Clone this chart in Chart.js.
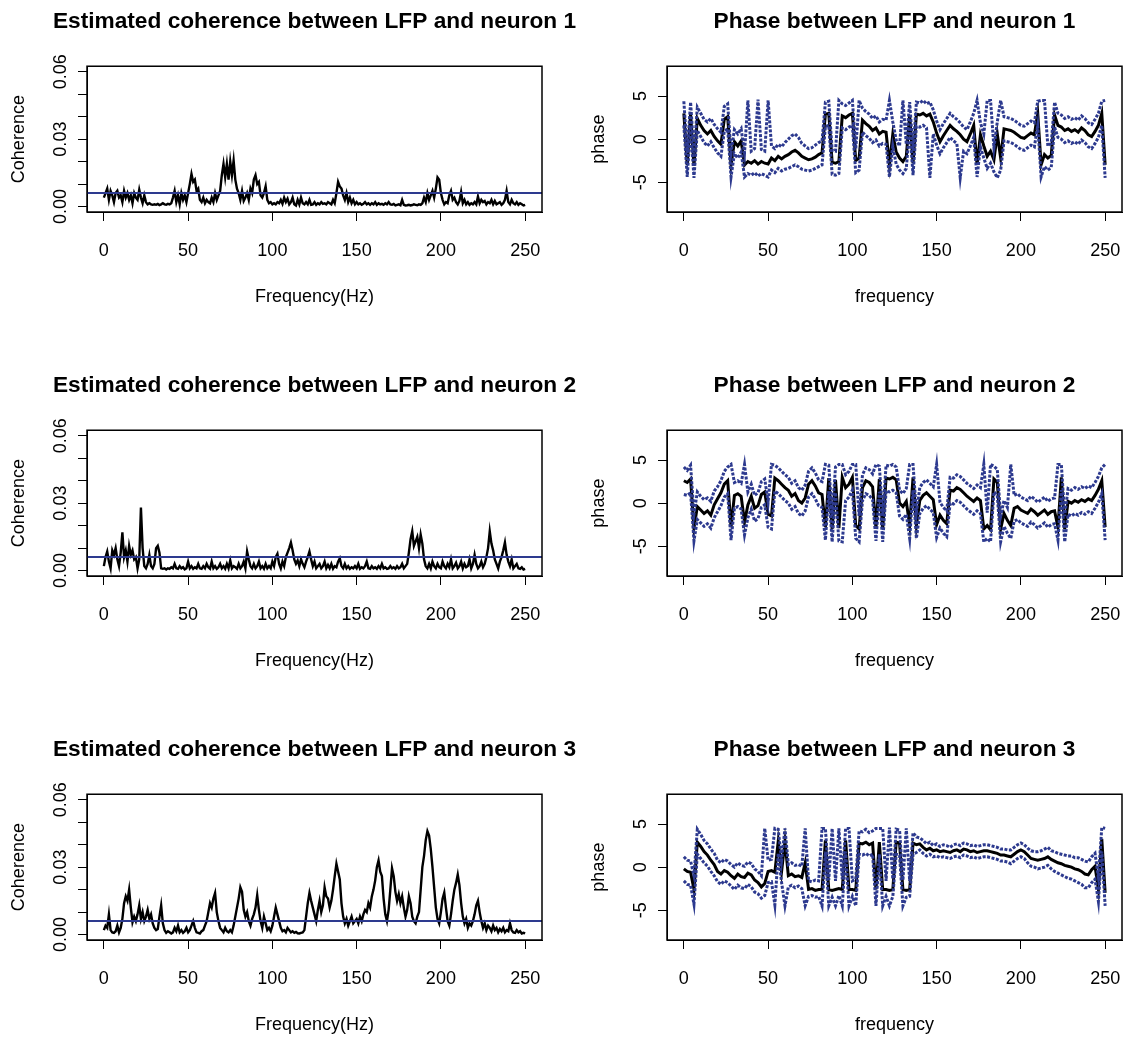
<!DOCTYPE html>
<html>
<head>
<meta charset="utf-8">
<script src="https://cdn.jsdelivr.net/npm/chart.js@4.4.1/dist/chart.umd.min.js"></script>
<style>
  html, body { margin: 0; padding: 0; background: #fff; }
  #page { position: relative; width: 1124px; height: 1038px; overflow: hidden; background: #fff; }
  #page canvas { position: absolute; }
</style>
</head>
<body>
<div id="page"></div>
<script>
/* Coherence LFP/neuron (left column) + phase with confidence bands (right column).
 * Coherence values are in units of 1e-3, one sample per Hz (0..250).
 * Phase values in radians, one sample every 2 Hz (0..250). */

const COH_STEP = 1;
const PHASE_STEP = 2;

const cohNeuron1 = [
  4, 6, 8, 3, 7, 5, 2, 6, 7, 4,
  5, 2, 7, 4, 6, 3, 5, 1.5, 6, 4,
  3, 7.5, 4, 1.5, 5, 2, 1, 1.5, 1, 0.8,
  1, 0.8, 1.2, 0.7, 1, 1.5, 1, 0.8, 1.2, 1,
  1.5, 4, 7, 2, 5, 1, 6, 3, 5, 2,
  6, 10, 14.5, 11, 12, 7, 8, 3, 2, 4,
  1.5, 3, 2, 1.5, 4, 2, 6, 3, 5, 7,
  14, 19, 13, 19, 12, 20, 14, 20.5, 12, 8,
  6, 3, 7, 2.5, 4, 6, 3, 8, 6, 12,
  14, 10, 11, 5, 4, 6, 9, 3, 1.5, 2,
  1, 1.5, 1, 2, 1.5, 3, 1.2, 4, 2, 3.5,
  1, 2, 4, 1, 0.5, 3, 1, 4, 1.5, 1,
  2, 1, 3, 0.8, 1, 2, 0.8, 1.5, 1, 2,
  1.2, 1.5, 1, 2, 1.5, 1, 3, 1.5, 6, 11,
  9, 8, 5, 3, 6, 2, 4, 1.5, 3, 1,
  2, 1, 1.5, 0.8, 1.2, 2, 1, 1.5, 0.8, 1.5,
  1, 2, 0.8, 1.5, 1, 1.2, 0.8, 1.5, 1, 2,
  1, 0.8, 1.2, 0.5, 0.8, 1, 0.6, 3, 0.8, 0.5,
  0.6, 0.8, 0.5, 0.7, 1, 0.8, 0.6, 1, 0.8, 1.5,
  4, 2, 6, 3, 5, 7, 4, 8, 13, 12,
  6, 3, 1, 2, 1.5, 5, 7, 3, 4, 2,
  1, 2.5, 6.5, 1.5, 3, 1, 2, 0.8, 1.5, 1,
  2, 1, 4.5, 1.5, 3, 2, 2.5, 1, 2, 1.5,
  3, 1, 2.5, 1, 1.5, 2, 0.8, 1.5, 3, 7,
  2, 1, 3, 1.5, 1, 2, 0.8, 1.5, 1, 0.5,
  0.8
];

const cohNeuron2 = [
  2, 6, 8.5, 4, 1, 9, 7, 10, 5, 2,
  8, 17, 6, 9, 4, 11, 7, 9, 5, 6,
  1, 5, 28, 10, 2, 1, 3, 7, 2, 1,
  3, 10, 11, 8, 1, 0.8, 1, 0.5, 1, 0.8,
  1.5, 1, 3, 1, 0.8, 2, 1, 1.5, 0.5, 1,
  4, 1, 2, 0.8, 1.5, 1, 3, 1, 0.8, 2,
  1, 3, 1.5, 0.8, 4, 1, 2, 0.8, 1.5, 3,
  1, 2, 0.8, 3, 1, 4.5, 1, 2, 1.5, 0.8,
  3, 1, 2, 4, 1, 8.5, 5, 2, 1, 3,
  1, 2, 4, 1, 2, 0.8, 3, 1, 2, 1,
  4, 2, 6, 7.5, 3, 1, 4, 2, 6, 8,
  10, 12.5, 9, 5, 3, 4.5, 2, 5, 3, 1.5,
  4, 6, 8.5, 5, 2, 4, 1, 2, 3, 1,
  2, 4, 1, 2.5, 1, 3, 0.8, 2, 1.5, 4,
  5.5, 2, 1, 3, 1, 2, 0.8, 1.5, 1, 2,
  1, 3, 0.8, 1.5, 1, 2, 4, 1, 0.8, 2,
  1, 1.5, 0.8, 2, 1, 3, 1, 1.5, 0.8, 1,
  2, 1, 1.5, 0.8, 2, 1, 1.5, 3, 1, 2,
  3, 8, 14, 17.5, 11, 13, 15, 10, 16, 12,
  5, 2, 1, 3, 1, 4, 2, 1, 3, 1.5,
  1, 4, 2, 1, 3, 1.5, 5, 1, 2, 3.5,
  1, 2, 4, 1, 3, 1.5, 2, 5, 1, 3,
  7, 3, 1, 2, 4, 1.5, 3, 6, 10, 17.5,
  12, 9, 5, 3, 1, 4, 6, 9, 12.5, 7,
  4, 2, 5, 1, 2, 3, 1, 0.8, 1.5, 0.5,
  0.8
];

const cohNeuron3 = [
  2, 4, 3, 9, 2, 1, 0.8, 1.5, 4, 1,
  3, 7, 14, 17, 15, 20, 12, 5.5, 8, 6,
  9, 13, 7, 10, 6, 8, 11, 7, 9, 5,
  3, 2, 2.5, 8, 13, 5, 2, 0.8, 1.5, 1,
  0.5, 1, 3, 1.5, 4, 1, 2, 0.8, 1.5, 3,
  1, 2, 4, 6, 3, 1, 0.8, 0.5, 1.5, 2,
  4, 6, 10, 14, 12, 16, 18.5, 10, 6, 3,
  2, 1, 3, 1.5, 1, 2, 1, 4, 8, 12,
  16, 21, 19, 11, 8, 10, 6, 4, 7, 9,
  12, 17.5, 11, 6, 3, 8, 5, 2, 3, 1.5,
  4, 8, 12, 9, 6, 3, 1.5, 2, 1, 3,
  2, 1, 1.5, 0.8, 1.2, 0.6, 0.5, 0.8, 1, 2,
  8, 14, 18.5, 15, 12, 9, 6, 11, 15, 10,
  13, 21, 17, 16, 12, 15, 20, 26, 31.5, 28,
  24.5, 14, 8, 5, 7, 4, 6, 8, 5, 6,
  7, 5, 8, 6, 9, 11, 10, 14, 12, 17,
  20, 24, 30, 33, 28, 26, 16, 9, 6, 11,
  20, 29.5, 26, 19, 15, 18, 14, 17, 12, 8,
  11, 17, 14, 8, 6, 5, 8, 10, 20, 30,
  35, 42, 46, 44, 38, 30, 21, 12, 7, 5,
  10, 16, 18.7, 12, 6, 4, 9, 15, 20, 23,
  26.7, 22, 14, 8, 5, 7, 3, 5, 4, 6,
  9, 13, 15, 10, 6, 3, 5, 2, 4, 3,
  1.5, 4, 2, 3, 1, 2.5, 1.5, 3, 1, 2,
  1.5, 5, 2, 1, 0.8, 2, 1, 1.5, 0.5, 0.8,
  0.5
];

const cohThreshold = 6;

const phaseMean1 = [
  3.0, -3.0, 2.9, -3.1, 2.4, 1.6, 1.0, 0.6, 1.0, 0.3,
  -0.2, -0.6, 2.3, 2.6, -3.0, -0.3, -0.8, -0.2, -3.0, -2.6,
  -2.8, -2.5, -2.9, -2.6, -2.8, -2.9, -2.2, -2.5, -2.0, -2.3,
  -2.0, -1.8, -1.5, -1.3, -1.6, -2.0, -2.2, -2.4, -2.3, -2.1,
  -1.8, -1.6, 2.9, 3.0, -2.7, -2.8, -2.6, 2.7, 2.5, 2.8,
  3.0, -2.5, -2.2, 2.2, 1.8, 1.5, 1.0, 1.3, 0.6, 0.9,
  0.8, -3.0, 0.6, -1.5, -2.2, -2.6, -2.0, 2.8, -2.8, 2.9,
  2.8, 3.0, 2.7, 2.9, 2.0, 0.7, -0.3, 0.4, 1.0, 1.6,
  1.2, 0.9, 0.5, 0.0, -0.3, 0.6, 1.6, -3.0, 0.5, -0.8,
  -2.0, -1.4, -2.4, 0.6, -2.2, 1.2, 1.1, 1.0, 0.8, 0.5,
  0.2, 0.1, 0.4, 0.7, 0.5, 3.0, -3.0, -1.8, -2.2, -1.9,
  2.8, 1.6, 1.4, 1.0, 1.2, 0.9, 1.1, 0.8, 1.3, 1.0,
  0.5, 0.3, 0.9, 1.6, 3.0, -3.0
];
const phaseUpper1 = [
  4.4, -1.6, 4.3, -1.7, 3.7, 3.0, 2.3, 2.0, 2.4, 1.7,
  1.2, 0.8, 3.8, 4.1, -1.6, 1.1, 0.6, 1.2, -1.6, 4.5,
  -1.4, -1.1, 4.6, -1.2, -1.4, 4.5, -0.8, -1.1, -0.6, -0.9,
  -0.4, 0.0, 0.4, 0.6, 0.2, -0.5, -0.8, -1.1, -1.0, -0.7,
  -0.4, -0.2, 4.3, 4.4, -1.3, -1.4, 4.5, 4.1, 3.9, 4.2,
  4.5, -1.1, 4.5, 3.6, 3.2, 2.9, 2.4, 2.7, 2.0, 2.3,
  2.2, 4.5, 2.0, -0.1, -0.8, 4.5, -0.6, 4.3, -1.4, 4.3,
  4.2, 4.5, 4.1, 4.3, 3.4, 2.1, 1.1, 1.8, 2.4, 3.0,
  2.6, 2.3, 1.9, 1.4, 1.1, 2.0, 3.0, 4.5, 1.9, 0.6,
  4.5, 4.5, -1.0, 2.0, 4.5, 2.6, 2.5, 2.4, 2.2, 1.9,
  1.6, 1.5, 1.8, 2.1, 1.9, 4.4, 4.5, 4.5, -0.8, -0.5,
  4.3, 3.0, 2.8, 2.4, 2.6, 2.3, 2.5, 2.2, 2.7, 2.4,
  1.9, 1.7, 2.3, 3.0, 4.4, 4.5
];
const phaseLower1 = [
  1.6, -4.4, 1.5, -4.5, 1.0, 0.3, -0.4, -0.8, -0.3, -1.0,
  -1.6, -2.0, 0.9, 1.2, -4.4, -1.7, -2.2, -1.5, -4.4, -4.0,
  -4.2, -3.9, -4.3, -4.0, -4.2, -4.4, -3.6, -3.9, -3.4, -3.7,
  -3.5, -3.4, -3.2, -3.0, -3.2, -3.5, -3.6, -3.7, -3.6, -3.4,
  -3.2, -3.0, 1.5, 1.6, -4.1, -4.2, -4.0, 1.3, 1.1, 1.4,
  1.6, -3.9, -3.6, 0.8, 0.4, 0.1, -0.4, -0.1, -0.8, -0.5,
  -0.6, -4.4, -0.8, -2.9, -3.6, -4.0, -3.4, 1.4, -4.2, 1.5,
  1.4, 1.6, 1.3, -4.5, 0.6, -0.7, -1.7, -1.0, -0.4, 0.2,
  -0.2, -0.5, -4.5, -1.4, -1.7, -0.8, 0.2, -4.4, -0.9, -2.2,
  -3.4, -2.8, -3.8, -4.5, -3.6, -0.2, -0.3, -0.4, -0.6, -0.9,
  -1.2, -1.3, -1.0, -0.7, -0.9, 1.6, -4.4, -3.2, -3.6, -3.3,
  1.4, 0.2, 0.0, -0.4, -0.2, -0.5, -0.3, -0.6, -0.1, -0.4,
  -0.9, -1.1, -0.5, 0.2, 1.6, -4.5
];

const phaseMean2 = [
  2.6, 2.4, 2.8, -2.9, -0.4, -0.8, -1.2, -0.9, -1.4, -0.2,
  0.5, 1.2, 2.2, 2.6, -2.8, 0.9, 1.1, 0.8, -2.2, -0.2,
  0.8, -0.6, -0.3, 1.0, 1.3, -1.3, -1.5, 2.9, 2.6, 2.2,
  1.8, 1.5, 0.8, 1.1, 0.3, 0.0, 0.6, 2.2, 2.6, 2.0,
  1.2, 1.0, -2.8, 2.9, -3.0, 2.7, -2.9, 3.0, 1.8, 2.2,
  3.0, -2.6, -3.0, 1.8, 2.6, 2.4, 1.9, -2.9, 2.8, -3.0,
  2.9, 2.8, 3.0, 2.7, 0.0, -0.4, 0.2, -2.6, 3.0, -2.6,
  0.3, 0.9, 1.2, 0.8, 0.4, -2.5, -1.4, -2.0, -2.4, 1.5,
  1.4, 1.8, 1.6, 1.2, 0.8, 0.5, 0.2, 0.6, 0.3, -3.0,
  -2.6, -3.1, 2.8, 2.4, -3.0, -1.2, -2.0, -2.6, -0.6, -0.4,
  -0.8, -1.0, -1.2, -0.7, -1.0, -1.4, -1.1, -0.8, -1.3, -1.0,
  -0.9, -2.8, 3.0, -3.0, 0.2, 0.0, 0.3, 0.1, 0.4, 0.2,
  0.5, 0.3, 0.9, 1.6, 2.6, -2.8
];
const phaseUpper2 = [
  4.2, 3.8, 4.4, -1.3, 1.3, 0.8, 0.4, 0.6, 0.2, 1.4,
  1.9, 2.6, 3.7, 4.2, 4.5, 2.4, 2.6, 2.3, 4.5, 1.3,
  2.2, 0.9, 1.2, 2.5, 2.8, 0.1, 4.5, 4.4, 4.1, 3.7,
  3.3, 3.0, 2.3, 2.6, 1.8, 1.5, 2.1, 3.7, 4.1, 3.5,
  2.7, 2.5, 4.5, 4.4, -1.5, 4.2, 4.5, 4.5, 3.3, 3.7,
  4.5, 4.5, -1.5, 3.3, 4.1, 3.9, 3.4, 4.5, 4.3, -1.5,
  4.4, 4.3, 4.5, 4.2, 1.5, 1.1, 1.7, 4.5, 4.5, -1.1,
  1.8, 2.4, 2.7, 2.3, 1.9, 4.5, 0.1, -0.5, -0.9, 3.0,
  2.9, 3.3, 3.1, 2.7, 2.3, 2.0, 1.7, 2.1, 1.8, 4.5,
  -1.1, 4.5, 4.3, 3.9, -1.5, 0.3, -0.5, 4.5, 0.9, 1.1,
  0.7, 0.5, 0.3, 0.8, 0.5, 0.1, 0.4, 0.7, 0.2, 0.5,
  0.6, 4.5, 4.5, -1.5, 1.7, 1.5, 1.8, 1.6, 1.9, 1.7,
  2.0, 1.8, 2.4, 3.1, 4.1, 4.5
];
const phaseLower2 = [
  1.0, 0.9, 1.2, -4.4, -1.9, -2.3, -2.7, -2.4, -2.9, -1.7,
  -1.0, -0.3, 0.7, 1.1, -4.3, -0.6, -0.4, -0.7, -3.7, -1.7,
  -0.7, -2.1, -1.8, -0.5, -0.2, -2.8, -3.0, 1.4, 1.1, 0.7,
  0.3, 0.0, -0.7, -0.4, -1.2, -1.5, -0.9, 0.7, 1.1, 0.5,
  -0.3, -0.5, -4.3, 1.4, -4.5, 1.2, -4.4, -4.5, 0.3, 0.7,
  1.5, -4.1, -4.5, 0.3, 1.1, 0.9, 0.4, -4.4, 1.3, -4.5,
  1.4, 1.3, 1.5, 1.2, -1.5, -1.9, -1.3, -4.1, 1.5, -4.1,
  -1.2, -0.6, -0.3, -0.7, -1.1, -4.0, -2.9, -3.5, -3.9, 0.0,
  -0.1, 0.3, 0.1, -0.3, -0.7, -1.0, -1.3, -0.9, -1.2, -4.5,
  -4.1, -4.5, 1.3, 0.9, -4.5, -2.7, -3.5, -4.1, -2.1, -1.9,
  -2.3, -2.5, -2.7, -2.2, -2.5, -2.9, -2.6, -2.3, -2.8, -2.5,
  -2.4, -4.3, 1.5, -4.5, -1.3, -1.5, -1.2, -1.4, -1.1, -1.3,
  -1.0, -1.2, -0.6, 0.1, 1.1, -4.3
];

const phaseMean3 = [
  -0.2, -0.5, -0.6, -2.6, 2.9, 2.4, 1.8, 1.4, 0.8, 0.3,
  -0.5, -0.8, -0.4, -0.6, -1.0, -1.3, -0.8, -1.1, -1.2, -0.7,
  -0.9, -1.5, -1.8, -2.3, -1.9, -0.5, -0.4, -0.6, 3.0, -0.5,
  3.0, -1.0, -0.8, -1.1, -1.0, -1.2, 0.5, -2.6, -2.5, -2.7,
  -2.6, -2.6, 3.1, -2.6, -2.7, -2.6, -2.5, -2.6, 3.1, -2.6,
  -2.6, -2.7, 2.8, 2.7, 2.9, 2.6, 2.8, -2.6, 2.9, -2.6,
  -2.6, -2.7, -2.6, 2.9, 2.8, -2.6, -2.7, -2.6, 2.8, 2.6,
  2.7, 2.3, 2.0, 2.2, 1.9, 2.0, 1.8, 1.9, 1.8, 1.7,
  1.9, 2.0, 1.8, 2.1, 2.0, 1.8, 1.9, 1.7, 1.8, 1.9,
  1.9, 1.8, 1.7, 1.6, 1.4, 1.4, 1.3, 1.2, 1.5, 1.8,
  2.0, 1.8, 1.4, 1.0, 0.9, 0.8, 0.9, 1.0, 1.2, 0.9,
  0.7, 0.5, 0.4, 0.2, 0.1, 0.0, -0.2, -0.3, -0.5, -0.8,
  -0.9, -0.3, 0.1, -2.6, 3.3, -3.0
];
const phaseUpper3 = [
  1.2, 0.8, 0.7, -1.0, 4.4, 3.8, 3.1, 2.7, 2.1, 1.6,
  0.8, 0.5, 0.9, 0.7, 0.3, 0.0, 0.5, 0.2, 0.1, 0.6,
  0.4, -0.2, -0.5, -1.0, 4.5, 0.8, 0.9, 4.5, 4.4, 0.8,
  4.5, 0.3, 0.5, 0.2, 0.3, 0.1, 4.5, -1.6, -1.7, -1.5,
  -1.6, 4.5, 4.5, -1.5, 4.5, -1.6, 4.5, -1.4, 4.5, 4.5,
  -1.6, -1.4, 4.2, 4.1, 4.4, 4.0, 4.2, 4.5, 4.5, 4.5,
  -1.6, 4.6, -1.4, 4.4, 4.3, -1.5, 4.5, -1.6, 4.0, 3.5,
  3.4, 3.1, 2.7, 2.9, 2.5, 2.7, 2.4, 2.6, 2.5, 2.3,
  2.6, 2.7, 2.5, 2.8, 2.7, 2.5, 2.6, 2.4, 2.5, 2.6,
  2.6, 2.5, 2.4, 2.3, 2.1, 2.1, 2.0, 2.0, 2.3, 2.6,
  2.8, 2.6, 2.2, 1.9, 1.8, 1.8, 1.9, 2.1, 2.3, 1.9,
  1.8, 1.6, 1.5, 1.4, 1.3, 1.3, 1.1, 1.1, 0.9, 0.7,
  0.6, 1.2, 1.6, -1.2, 4.6, 4.5
];
const phaseLower3 = [
  -1.6, -2.0, -2.1, -4.3, 1.5, 1.0, 0.5, 0.1, -0.5, -1.0,
  -1.7, -2.0, -1.6, -1.8, -2.2, -2.6, -2.1, -2.4, -2.5, -2.0,
  -2.3, -2.9, -3.1, -3.6, -3.3, -1.8, -1.7, -4.4, 1.6, -1.8,
  -4.5, -2.3, -2.1, -2.4, -2.2, -2.5, -4.5, -3.4, -3.3, -3.5,
  -3.4, -4.5, 1.8, -4.5, -3.5, -4.5, -3.3, -4.5, 1.8, -4.5,
  -3.4, -4.5, 1.5, 1.4, 1.6, 1.3, 1.5, -4.5, 1.5, -4.5,
  -3.4, -4.5, -3.4, 1.5, 1.4, -4.5, -3.5, -3.4, 1.5, 1.7,
  2.0, 1.6, 1.3, 1.5, 1.2, 1.3, 1.1, 1.2, 1.1, 1.0,
  1.2, 1.3, 1.1, 1.4, 1.3, 1.1, 1.2, 1.0, 1.1, 1.2,
  1.2, 1.1, 1.0, 0.9, 0.7, 0.7, 0.6, 0.4, 0.7, 1.0,
  1.2, 1.0, 0.5, 0.1, 0.0, -0.2, -0.1, 0.0, 0.2, -0.2,
  -0.5, -0.7, -0.9, -1.1, -1.3, -1.4, -1.6, -1.8, -2.0, -2.4,
  -2.4, -1.8, -1.4, -4.0, 1.8, -4.5
];

const freqTicks = [0, 50, 100, 150, 200, 250];
const cohTicks = [0, 10, 20, 30, 40, 50, 60];
const cohLabelled = [0, 30, 60];
const phaseTicks = [-5, 0, 5];

const FONT = '"Liberation Sans", Arial, Helvetica, sans-serif';
const BLUE = '#2d3a8f';
const PANEL_W = 629, PANEL_H = 364;
const SIDE_W = 87;   // left axis band; mirrored by an empty right axis so the title centres on the box

Chart.defaults.font.family = FONT;
Chart.defaults.color = '#000';

function toXY(arr, step) {
  return arr.map((v, i) => ({ x: i * step, y: v }));
}

// R-style closed box around the plot region
const boxPlugin = {
  id: 'rbox',
  afterDatasetsDraw(chart) {
    const a = chart.chartArea, ctx = chart.ctx;
    ctx.save();
    ctx.strokeStyle = '#000';
    ctx.lineWidth = 1.5;
    ctx.strokeRect(a.left, a.top, a.right - a.left, a.bottom - a.top);
    ctx.restore();
  }
};

function xScale(title) {
  return {
    type: 'linear', min: -10, max: 260,
    afterBuildTicks: s => { s.ticks = freqTicks.map(v => ({ value: v })); },
    afterFit: s => { s.height = 152; },
    ticks: { autoSkip: false, maxRotation: 0, padding: 19, font: { size: 18 }, color: '#000', callback: v => String(v) },
    grid: { drawOnChartArea: false, drawTicks: true, tickLength: 9, color: '#000', lineWidth: 1 },
    border: { display: true, color: '#000', width: 1 },
    title: { display: true, text: title, color: '#000', font: { size: 18 }, padding: { top: 0, bottom: 56 } }
  };
}

function yScale(o) {
  return {
    type: 'linear', min: o.min, max: o.max,
    afterBuildTicks: s => { s.ticks = o.ticks.map(v => ({ value: v })); },
    afterFit: s => { s.width = SIDE_W; },
    ticks: { autoSkip: false, minRotation: 90, maxRotation: 90, crossAlign: 'center', padding: o.pad, font: { size: 18 }, color: '#000', callback: o.label },
    grid: { drawOnChartArea: false, drawTicks: true, tickLength: 9, color: '#000', lineWidth: 1 },
    border: { display: true, color: '#000', width: 1 },
    title: { display: true, text: o.title, color: '#000', font: { size: 18 }, padding: { top: 8, bottom: 0 } }
  };
}

const spacerScale = {
  type: 'linear', position: 'right', min: 0, max: 1,
  afterFit: s => { s.width = SIDE_W; },
  ticks: { display: false },
  grid: { display: false, drawTicks: false },
  border: { display: false }
};

function makePanel(col, row, title, xTitle, yOpts, datasets) {
  const cv = document.createElement('canvas');
  cv.width = PANEL_W; cv.height = PANEL_H;
  cv.style.width = PANEL_W + 'px'; cv.style.height = PANEL_H + 'px';
  cv.style.left = (col * 580) + 'px';
  cv.style.top = (row * 364) + 'px';
  document.getElementById('page').appendChild(cv);
  return new Chart(cv, {
    type: 'line',
    data: { datasets },
    options: {
      responsive: false, animation: false, devicePixelRatio: 1, events: [],
      layout: { padding: 0 },
      elements: { point: { radius: 0 }, line: { tension: 0 } },
      plugins: {
        legend: { display: false },
        tooltip: { enabled: false },
        title: {
          display: true, text: title, fullSize: true, color: '#000',
          font: { size: 22.7, weight: 'bold', lineHeight: 1.2 },
          padding: { top: 8, bottom: 31 }
        }
      },
      scales: { x: xScale(xTitle), y: yScale(yOpts), ySpacer: spacerScale }
    },
    plugins: [boxPlugin]
  });
}

const cohY = {
  min: -2.4, max: 62.4, ticks: cohTicks, pad: -0.5, title: 'Coherence',
  label: v => cohLabelled.includes(v) ? (v / 1000).toFixed(2) : ''
};
const phaseY = {
  min: -8.47, max: 8.47, ticks: phaseTicks, pad: 9, title: 'phase',
  label: v => String(v)
};

function cohDatasets(values) {
  return [
    { data: [{ x: -10, y: cohThreshold }, { x: 260, y: cohThreshold }], borderColor: BLUE, borderWidth: 2 },
    { data: toXY(values, COH_STEP), borderColor: '#000', borderWidth: 2.4 }
  ];
}

function phaseDatasets(mean, upper, lower) {
  return [
    { data: toXY(upper, PHASE_STEP), borderColor: BLUE, borderWidth: 3, borderDash: [3, 1.5] },
    { data: toXY(lower, PHASE_STEP), borderColor: BLUE, borderWidth: 3, borderDash: [3, 1.5] },
    { data: toXY(mean, PHASE_STEP), borderColor: '#000', borderWidth: 3 }
  ];
}

const cohSets = [cohNeuron1, cohNeuron2, cohNeuron3];
const phaseSets = [
  [phaseMean1, phaseUpper1, phaseLower1],
  [phaseMean2, phaseUpper2, phaseLower2],
  [phaseMean3, phaseUpper3, phaseLower3]
];

for (let i = 0; i < 3; i++) {
  makePanel(0, i, 'Estimated coherence between LFP and neuron ' + (i + 1), 'Frequency(Hz)', cohY, cohDatasets(cohSets[i]));
  makePanel(1, i, 'Phase between LFP and neuron ' + (i + 1), 'frequency', phaseY, phaseDatasets(...phaseSets[i]));
}
</script>
</body>
</html>
